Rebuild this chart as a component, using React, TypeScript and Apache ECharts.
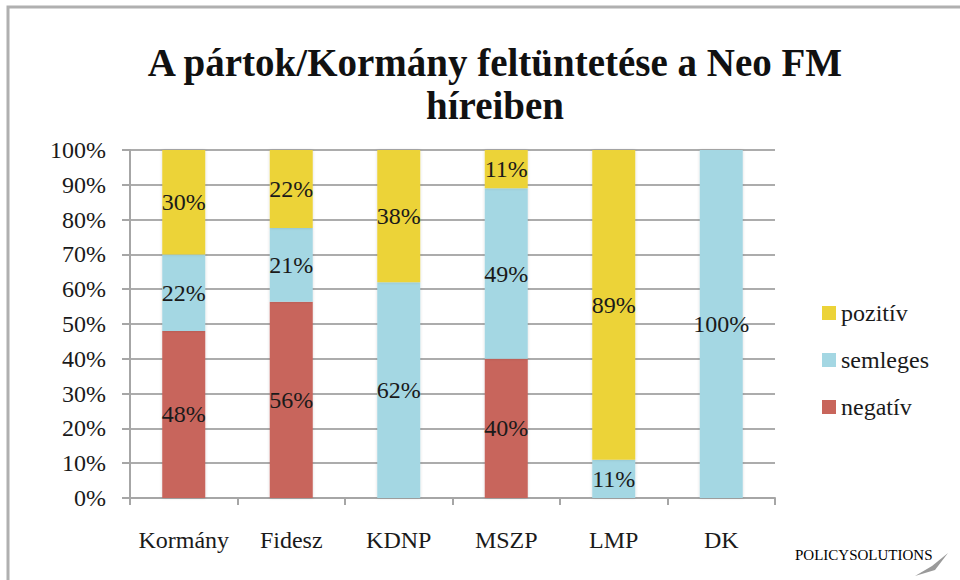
import React, { useEffect, useRef } from "react";
import * as echarts from "echarts";

const titleLines = ["A pártok/Kormány feltüntetése a Neo FM", "híreiben"];
const categories = ["Kormány", "Fidesz", "KDNP", "MSZP", "LMP", "DK"];
const negativ = [48, 56.4, 0, 40, 0, 0];
const semleges = [22, 21.2, 62, 49, 11, 100];
const pozitiv = [30, 22.4, 38, 11, 89, 0];
const legendNames = ["pozitív", "semleges", "negatív"];

const FONT = "'Liberation Serif', 'DejaVu Serif', serif";
const colors = { pozitiv: "#ECD338", semleges: "#A4D7E3", negativ: "#C8655B" };

export default function App() {
  const ref = useRef<HTMLDivElement>(null);
  useEffect(() => {
    if (!ref.current) return;
    const chart = echarts.init(ref.current, undefined, { renderer: "svg" });
    const label = {
      show: true,
      position: "inside" as const,
      fontFamily: FONT,
      fontSize: 24,
      color: "#1a1a1a",
      formatter: (p: any) => (p.value > 0 ? Math.round(p.value) + "%" : ""),
    };
    const mk = (name: string, data: number[], color: string) => ({
      name,
      type: "bar",
      stack: "total",
      barWidth: 43,
      data,
      label,
      itemStyle: { color, shadowBlur: 3, shadowColor: "rgba(0,0,0,0.15)" },
    });
    chart.setOption({
      animation: false,
      backgroundColor: "#ffffff",
      textStyle: { fontFamily: FONT },
      title: {
        text: titleLines.join("\n"),
        left: 490,
        top: 36,
        textAlign: "center",
        textStyle: {
          fontFamily: FONT,
          fontWeight: "bold",
          fontSize: 39,
          lineHeight: 43,
          color: "#111",
        },
      },
      legend: {
        data: legendNames,
        orient: "vertical",
        left: 817,
        top: 296,
        icon: "rect",
        itemWidth: 14,
        itemHeight: 14,
        itemGap: 23,
        textStyle: { fontFamily: FONT, fontSize: 24, color: "#1a1a1a" },
      },
      grid: { left: 130, right: 185, top: 150, bottom: 82, containLabel: false },
      xAxis: {
        type: "category",
        data: categories,
        axisLine: { lineStyle: { color: "#a6a6a6", width: 2 } },
        axisTick: { show: true, interval: 0, length: 7, lineStyle: { color: "#a6a6a6", width: 2 } },
        axisLabel: { interval: 0, fontFamily: FONT, fontSize: 24, color: "#1a1a1a", margin: 30 },
      },
      yAxis: {
        type: "value",
        min: 0,
        max: 100,
        interval: 10,
        axisLine: { show: true, lineStyle: { color: "#a6a6a6", width: 2 } },
        axisTick: { show: true, length: 8, lineStyle: { color: "#a6a6a6", width: 2 } },
        axisLabel: { fontFamily: FONT, fontSize: 24, color: "#1a1a1a", margin: 24, formatter: "{value}%" },
        splitLine: { show: true, lineStyle: { color: "#acacac", width: 2 } },
      },
      graphic: [
        {
          type: "polyline",
          shape: { points: [[8, 600], [8, 7], [970, 7]] },
          style: { stroke: "#b0b0b0", lineWidth: 3, fill: null },
          silent: true,
        },
        {
          type: "text",
          left: 795,
          top: 547,
          style: {
            text: "{a|POLICY}{b|SOLUTIONS}",
            rich: {
              a: { fontFamily: FONT, fontSize: 15, color: "#a9a9a9" },
              b: { fontFamily: FONT, fontSize: 15, color: "#7a7a7a" },
            },
          },
        },
        {
          type: "polygon",
          shape: { points: [[948, 553], [935, 570], [915, 576], [932, 566]] },
          style: { fill: "#9a9a9a" },
        },
      ],
      series: [
        mk("negatív", negativ, colors.negativ),
        mk("semleges", semleges, colors.semleges),
        mk("pozitív", pozitiv, colors.pozitiv),
      ],
    });
    return () => chart.dispose();
  }, []);
  return (
    <div
      ref={ref}
      style={{ position: "fixed", left: 0, top: 0, width: 960, height: 580 }}
    />
  );
}
